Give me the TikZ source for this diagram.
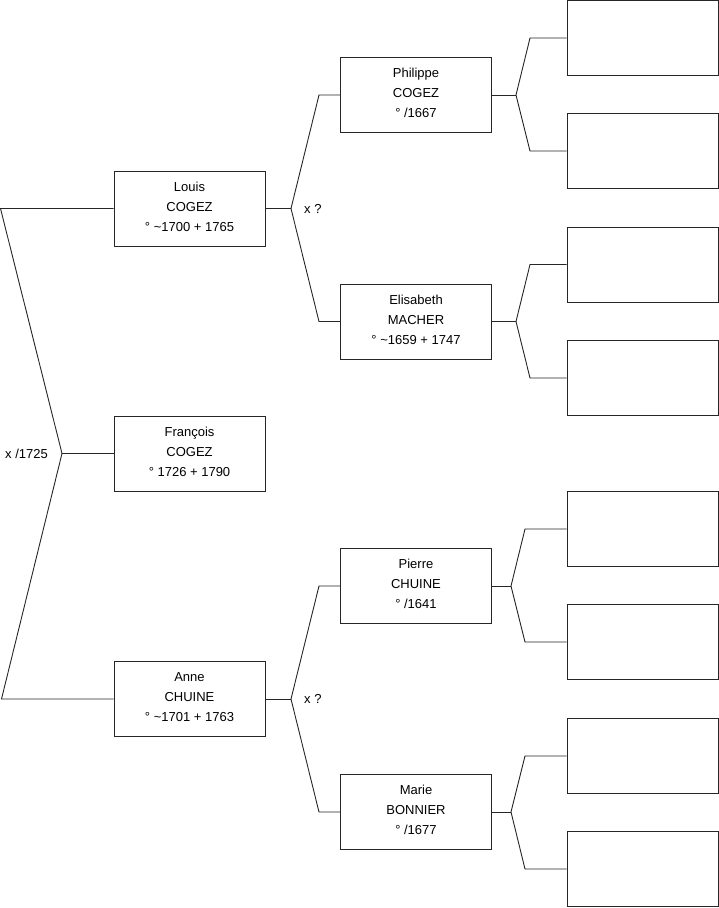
\documentclass[tikz,border=0pt]{standalone}
\usepackage{fontspec}
\setmainfont{Liberation Sans}
\tikzset{
  person/.style={
    draw=black!85,
    line width=0.9pt,
    minimum width=151pt,
    minimum height=75pt,
    inner sep=0pt,
    text depth=4pt,
    align=center,
    font=\fontsize{13}{20}\selectfont
  },
  blank box/.style={
    person
  },
  branch/.style={
    draw=black!85,
    line width=0.9pt
  },
  union label/.style={
    anchor=west,
    inner sep=0pt,
    font=\fontsize{13}{15}\selectfont
  }
}

\begin{document}
\begin{tikzpicture}[x=1pt, y=-1pt]
  \useasboundingbox (0,0) rectangle (719,908);

  % ======================= child =======================
  \node[person] (francois) at (189.5,453.5) {François\\COGEZ\\° 1726 + 1790};

  % ======================= parents =======================
  \node[person] (louis) at (189.5,208.5) {Louis\\COGEZ\\° \textasciitilde1700 + 1765};
  \node[person] (anne)  at (189.5,699)   {Anne\\CHUINE\\° \textasciitilde1701 + 1763};

  \coordinate (g0a) at (0.5,208.5);
  \coordinate (g0)  at (62,453.5);
  \coordinate (g0b) at (1.5,699);
  \draw[branch] (louis.west) -- (g0a) -- (g0) -- (g0b) -- (anne.west);
  \draw[branch] (g0) -- (francois.west);
  \node[union label] (m0) at (5,453.5) {x /1725};

  % ======================= grandparents =======================
  \node[person] (philippe)  at (416,95)    {Philippe\\COGEZ\\° /1667};
  \node[person] (elisabeth) at (416,321.5) {Elisabeth\\MACHER\\° \textasciitilde1659 + 1747};
  \node[person] (pierre)    at (416,586)   {Pierre\\CHUINE\\° /1641};
  \node[person] (marie)     at (416,812)   {Marie\\BONNIER\\° /1677};

  % left side couple
  \coordinate (g1)  at (291,208.5);
  \coordinate (g1a) at (319,95);
  \coordinate (g1b) at (319,321.5);
  \draw[branch] (louis.east) -- (g1);
  \draw[branch] (philippe.west) -- (g1a) -- (g1) -- (g1b) -- (elisabeth.west);
  \node[union label] (m1) at (304,208.5) {x ?};

  % right side couple
  \coordinate (g2)  at (291,699);
  \coordinate (g2a) at (319,586);
  \coordinate (g2b) at (319,812);
  \draw[branch] (anne.east) -- (g2);
  \draw[branch] (pierre.west) -- (g2a) -- (g2) -- (g2b) -- (marie.west);
  \node[union label] (m2) at (304,699) {x ?};

  % ======================= great-grandparents (blank) =======================
  \foreach \p/\py/\vx/\bx/\a/\ya/\b/\yb in {
      philippe/95/516/530/e1/38/e2/151,
      elisabeth/321.5/516/530/e3/264.5/e4/378,
      pierre/586/511/525/e5/529/e6/642,
      marie/812/511/525/e7/756/e8/869}{
    \node[blank box] (\a) at (642.5,\ya) {};
    \node[blank box] (\b) at (642.5,\yb) {};
    \coordinate (v-\p) at (\vx,\py);
    \coordinate (k-\a) at (\bx,\ya);
    \coordinate (k-\b) at (\bx,\yb);
    \draw[branch] (\p.east) -- (v-\p);
    \draw[branch] (\a.west) -- (k-\a) -- (v-\p) -- (k-\b) -- (\b.west);
  }

\end{tikzpicture}
\end{document}
